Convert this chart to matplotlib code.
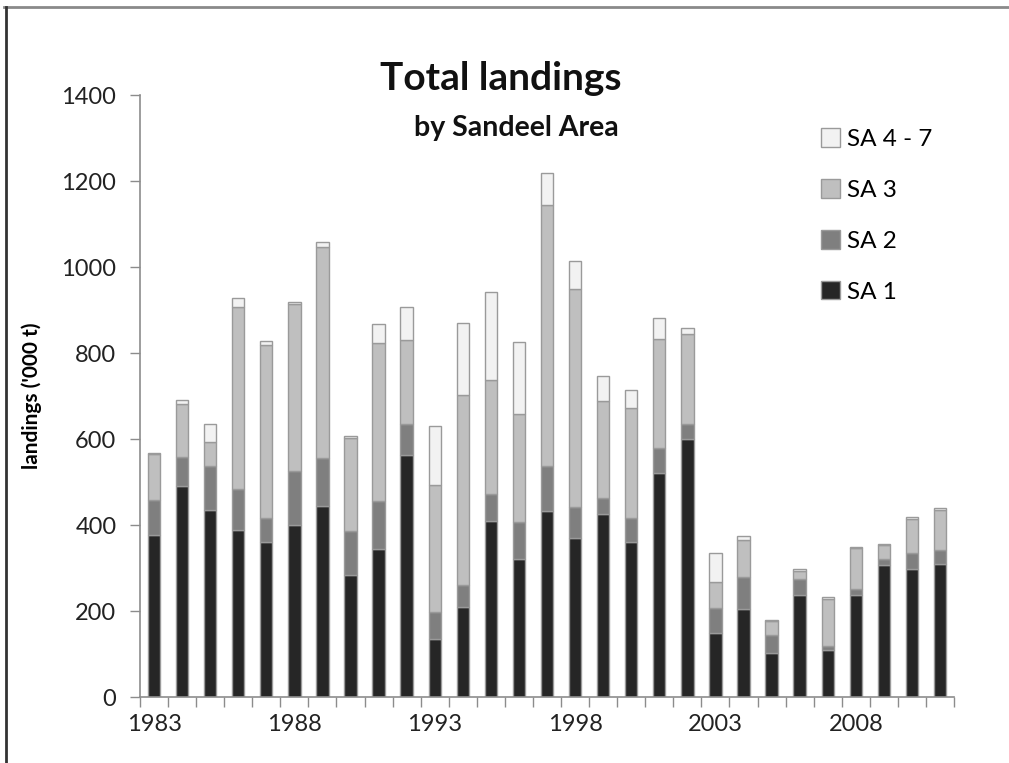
import matplotlib
matplotlib.use("Agg")
import matplotlib.pyplot as plt
from matplotlib.lines import Line2D
from matplotlib.patches import Patch
import numpy as np

years = list(range(1983, 2012))
sa1 = [376, 491, 435, 389, 360, 401, 445, 283, 345, 562,
       135, 209, 410, 322, 432, 370, 426, 361, 522, 600,
       150, 205, 103, 237, 110, 237, 308, 298, 310]
sa2 = [83, 67, 102, 95, 56, 124, 110, 102, 111, 74,
       63, 52, 62, 84, 105, 71, 37, 55, 58, 36,
       57, 74, 42, 38, 8, 15, 12, 36, 33]
sa3 = [106, 124, 57, 422, 402, 389, 492, 218, 368, 195,
       295, 442, 265, 251, 607, 507, 225, 257, 253, 209,
       61, 87, 31, 19, 110, 95, 33, 80, 91]
sa47 = [2, 8, 41, 21, 10, 4, 10, 4, 43, 76,
        138, 167, 204, 168, 74, 65, 59, 42, 49, 13,
        66, 9, 3, 3, 4, 3, 3, 4, 5]
series_names = ["SA 1", "SA 2", "SA 3", "SA 4 - 7"]
yticks = [0, 200, 400, 600, 800, 1000, 1200, 1400]
xlabel_years = [1983, 1988, 1993, 1998, 2003, 2008]

colors = ["#262626", "#7f7f7f", "#bfbfbf", "#f2f2f2"]
edge = "#9a9a9a"
font = "Lato"

fig = plt.figure(figsize=(10.09, 7.63), dpi=100)
ax = fig.add_axes([140/1009, (763-697)/763, (954-140)/1009, (697-95)/763])

x = np.arange(len(years))
bottom = np.zeros(len(years))
handles = []
for vals, name, c in zip([sa1, sa2, sa3, sa47], series_names, colors):
    v = np.array(vals, dtype=float)
    ax.bar(x, v, width=0.44, bottom=bottom, color=c, edgecolor=edge, linewidth=1.0, label=name, zorder=2)
    bottom += v
    handles.append(Patch(facecolor=c, edgecolor=edge, label=name))

ax.set_xlim(-0.5, len(years) - 0.5)
ax.set_ylim(0, 1400)
for s in ["top", "right"]:
    ax.spines[s].set_visible(False)
for s in ["left", "bottom"]:
    ax.spines[s].set_color("#8c8c8c")
    ax.spines[s].set_linewidth(1.2)

ax.set_yticks(yticks)
ax.set_yticklabels([str(t) for t in yticks], fontfamily=font, fontsize=17, color="#222222")
ax.tick_params(axis="y", direction="out", length=7, width=1.0, color="#8c8c8c", pad=10)

ax.set_xticks([years.index(y) for y in xlabel_years])
ax.set_xticklabels([str(y) for y in xlabel_years], fontfamily=font, fontsize=17, color="#222222")
ax.tick_params(axis="x", which="major", length=0, pad=12)
ax.set_xticks(np.arange(-0.5, len(years), 1.0), minor=True)
ax.tick_params(axis="x", which="minor", direction="out", length=7, width=1.0, color="#8c8c8c")

ax.set_ylabel("landings ('000 t)", fontfamily=font, fontsize=15, fontweight="bold", labelpad=14)

fig.text(0.496, 0.882, "Total landings", ha="center", va="baseline", fontfamily=font,
         fontsize=28, fontweight="bold", color="#111111")
fig.text(0.512, 0.822, "by Sandeel Area", ha="center", va="baseline", fontfamily=font,
         fontsize=20.5, fontweight="bold", color="#111111")

leg = ax.legend(handles=handles[::-1], loc="upper left", bbox_to_anchor=(0.836, 0.945),
                frameon=False, prop={"family": font, "size": 17.5}, labelspacing=1.2,
                handlelength=0.8, handleheight=0.8, handletextpad=0.3, borderpad=0,
                borderaxespad=0)

# outer frame lines of the screenshot
fig.add_artist(Line2D([4/1009, 1], [1 - 7/763, 1 - 7/763], color="#8a8a8a", linewidth=2.0, transform=fig.transFigure))
fig.add_artist(Line2D([6/1009, 6/1009], [0, 1 - 7/763], color="#333333", linewidth=2.0, transform=fig.transFigure))

fig.savefig("out.png", dpi=100)
